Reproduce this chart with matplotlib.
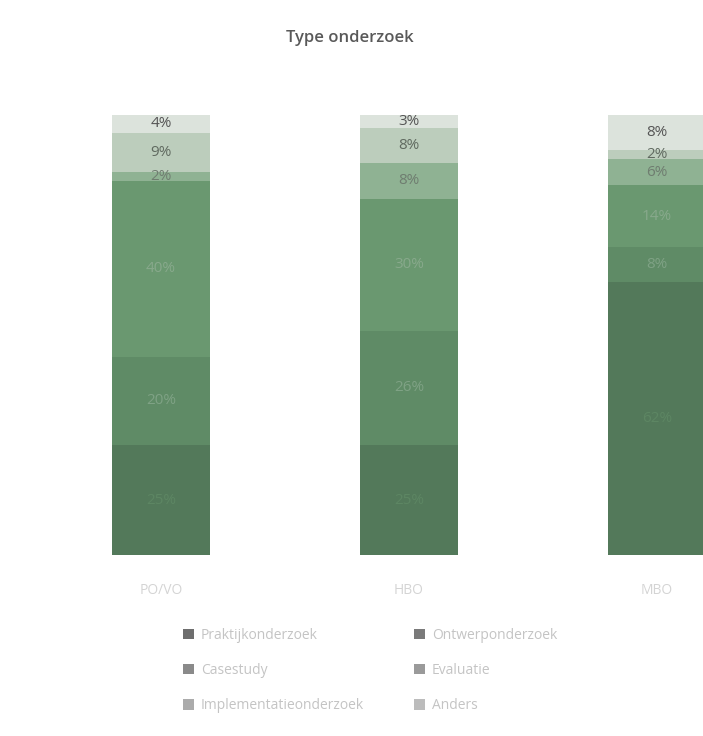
import matplotlib
matplotlib.use("Agg")
import matplotlib.pyplot as plt
from matplotlib.patches import Patch

categories = ["PO/VO", "HBO", "MBO"]
series_names = [
    "Praktijkonderzoek",
    "Ontwerponderzoek",
    "Casestudy",
    "Evaluatie",
    "Implementatieonderzoek",
    "Anders",
]
# percentages per series (bottom to top), one value per category
praktijk = [25, 25, 62]
ontwerp = [20, 26, 8]
casestudy = [40, 30, 14]
evaluatie = [2, 8, 6]
implementatie = [9, 8, 2]
anders = [4, 3, 8]
series_values = [praktijk, ontwerp, casestudy, evaluatie, implementatie, anders]

bar_colors = ["#53795a", "#5f8b66", "#6a9870", "#8fb293", "#bccdbc", "#dce3dc"]
label_colors = ["#5d8663", "#7fa285", "#88a98c", "#6f7d70", "#606a60", "#555555"]
legend_colors = ["#6e6e6e", "#7a7a7a", "#8a8a8a", "#9a9a9a", "#ababab", "#bcbcbc"]

plt.rcParams["font.family"] = ["Open Sans", "DejaVu Sans"]

fig = plt.figure(figsize=(7.03, 7.36), dpi=100)
ax = fig.add_axes([0.0, 0.2459, 1.0, 0.5979])

x = list(range(len(categories)))
bottoms = [0.0] * len(categories)
for vals, col, lcol in zip(series_values, bar_colors, label_colors):
    ax.bar(x, vals, width=0.395, bottom=bottoms, color=col, edgecolor="none")
    for xi, v, b in zip(x, vals, bottoms):
        ax.text(xi, b + v / 2, f"{v}%", ha="center", va="center",
                fontsize=11, color=lcol)
    bottoms = [b + v for b, v in zip(bottoms, vals)]

ax.set_xlim(-0.649, 2.185)
ax.set_ylim(0, 100)
ax.axis("off")

# category labels under the bars
for xi, cat in zip(x, categories):
    ax.text(xi, -8, cat, ha="center", va="center", fontsize=10,
            color="#d4d4d4", clip_on=False)

fig.text(0.498, 0.948, "Type onderzoek", ha="center", va="center",
         fontsize=12, color="#595959", fontweight="semibold")

# legend filled row by row (matplotlib fills column-wise)
handles = [Patch(facecolor=c, edgecolor="none") for c in legend_colors]
order = [0, 2, 4, 1, 3, 5]
fig.legend([handles[i] for i in order], [series_names[i] for i in order],
           loc="upper left", bbox_to_anchor=(0.242, 0.164), ncol=2,
           frameon=False, fontsize=10, labelcolor="#c4c4c4",
           handlelength=0.8, handleheight=0.8, handletextpad=0.5,
           columnspacing=3.6, labelspacing=1.45)

fig.savefig("out.png", dpi=100, facecolor="white")
